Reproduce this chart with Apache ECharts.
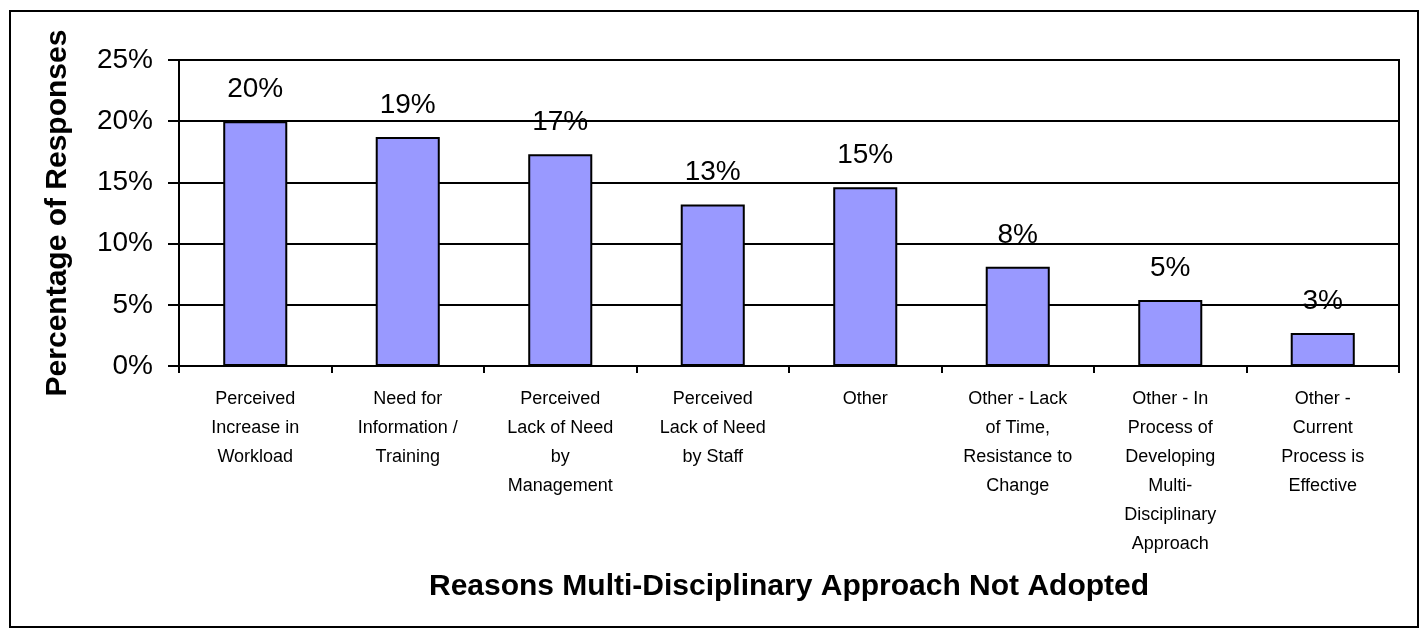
<!DOCTYPE html>
<html>
<head>
<meta charset="utf-8">
<script src="https://cdn.jsdelivr.net/npm/echarts@6/dist/echarts.min.js"></script>
<style>
  html, body { margin: 0; padding: 0; background: #fff; }
  #chart { width: 1428px; height: 639px; }
</style>
</head>
<body>
<div id="chart"></div>
<script>
// categories along the x axis, line breaks as drawn in the picture
const reasons = [
  'Perceived\nIncrease in\nWorkload',
  'Need for\nInformation /\nTraining',
  'Perceived\nLack of Need\nby\nManagement',
  'Perceived\nLack of Need\nby Staff',
  'Other',
  'Other - Lack\nof Time,\nResistance to\nChange',
  'Other - In\nProcess of\nDeveloping\nMulti-\nDisciplinary\nApproach',
  'Other -\nCurrent\nProcess is\nEffective'
];
// percentage of responses
const responses = [20.0, 18.7, 17.3, 13.2, 14.6, 8.1, 5.4, 2.7];
const yTicks = [0, 5, 10, 15, 20, 25];

const fontFamily = '"Liberation Sans", Arial, sans-serif';

const chart = echarts.init(document.getElementById('chart'));

chart.setOption({
  animation: false,
  backgroundColor: '#fff',
  textStyle: { fontFamily: fontFamily, color: '#000' },
  graphic: [{
    type: 'rect',
    shape: { x: 10, y: 11, width: 1408, height: 616 },
    style: { fill: 'none', stroke: '#000', lineWidth: 2 },
    silent: true
  }],
  grid: {
    left: 179,
    top: 60,
    right: 29,
    bottom: 273,
    show: true,
    borderColor: '#000',
    borderWidth: 2
  },
  xAxis: {
    type: 'category',
    data: reasons,
    name: 'Reasons Multi-Disciplinary Approach Not Adopted',
    nameLocation: 'middle',
    nameGap: 206,
    nameTextStyle: { fontSize: 30, fontWeight: 'bold', color: '#000', fontFamily: fontFamily },
    axisLine: { lineStyle: { color: '#000', width: 2 } },
    axisTick: { show: true, length: 7, lineStyle: { color: '#000', width: 2 } },
    axisLabel: {
      interval: 0,
      fontSize: 18,
      lineHeight: 29,
      margin: 19,
      color: '#000',
      fontFamily: fontFamily
    }
  },
  yAxis: {
    type: 'value',
    min: 0,
    max: 25,
    interval: 5,
    name: 'Percentage of Responses',
    nameLocation: 'middle',
    nameGap: 106,
    nameTextStyle: { fontSize: 30, fontWeight: 'bold', color: '#000', fontFamily: fontFamily },
    axisLine: { show: true, lineStyle: { color: '#000', width: 2 } },
    axisTick: { show: true, length: 11, lineStyle: { color: '#000', width: 2 } },
    axisLabel: {
      fontSize: 28,
      margin: 26,
      color: '#000',
      fontFamily: fontFamily,
      formatter: function (v) { return yTicks.indexOf(v) >= 0 ? v + '%' : ''; }
    },
    splitLine: { lineStyle: { color: '#000', width: 2 } }
  },
  series: [{
    type: 'bar',
    data: responses,
    barWidth: '42%',
    itemStyle: { color: '#9999ff', borderColor: '#000', borderWidth: 2 },
    label: {
      show: true,
      position: 'top',
      distance: 18,
      fontSize: 28,
      color: '#000',
      fontFamily: fontFamily,
      formatter: function (p) { return Math.round(p.value) + '%'; }
    }
  }]
});
</script>
</body>
</html>
